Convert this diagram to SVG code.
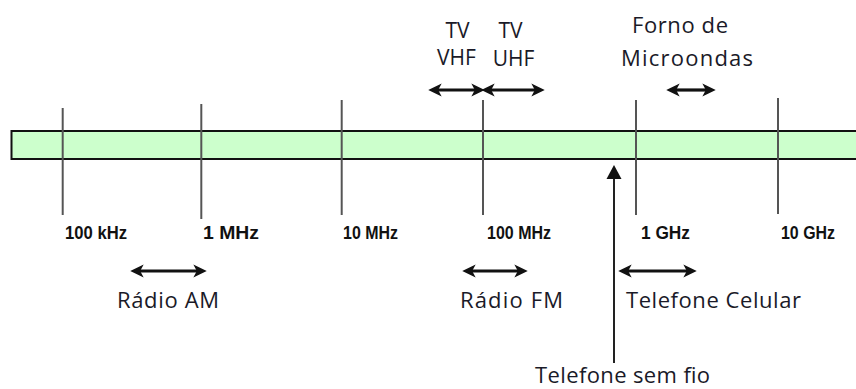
<svg xmlns="http://www.w3.org/2000/svg" width="856" height="389" viewBox="0 0 856 389">
  <style>
    .lbl { font-family: "Open Sans", "Noto Sans", sans-serif; font-size: 22px; fill: #1a1a28; }
    .tv { font-size: 21px; }
    .freq { font-family: "Liberation Sans", Arial, sans-serif; font-size: 18.5px; font-weight: bold; fill: #111; }
    .tick { stroke: #555; stroke-width: 2; fill: none; }
    .range { stroke: #111; stroke-width: 3.2; fill: none; marker-start: url(#head); marker-end: url(#head); }
  </style>
  <defs>
    <marker id="head" markerUnits="userSpaceOnUse" markerWidth="14" markerHeight="14" viewBox="0 0 12 12" refX="4" refY="6" orient="auto-start-reverse">
      <path d="M0,0.5 L11.5,6 L0,11.5 L3,6 Z" fill="#111"/>
    </marker>
  </defs>
  <rect width="856" height="389" fill="#ffffff"/>

  <g id="spectrum-bar">
    <rect x="11.5" y="131" width="850" height="28" fill="#ccffcc" stroke="#111" stroke-width="2"/>
  </g>

  <g id="ticks">
    <line class="tick" x1="62.7" y1="108" x2="62.7" y2="215"/>
    <line class="tick" x1="201.3" y1="104" x2="201.3" y2="219"/>
    <line class="tick" x1="341.7" y1="100" x2="341.7" y2="215"/>
    <line class="tick" x1="483" y1="100" x2="483" y2="215"/>
    <line class="tick" x1="636" y1="100" x2="636" y2="215"/>
    <line class="tick" x1="778" y1="98" x2="778" y2="214"/>
  </g>

  <g id="freq-labels">
    <text class="freq" x="65" y="239" textLength="62" lengthAdjust="spacingAndGlyphs">100 kHz</text>
    <text class="freq" x="203" y="239" textLength="56" lengthAdjust="spacingAndGlyphs">1  MHz</text>
    <text class="freq" x="343" y="239" textLength="55" lengthAdjust="spacingAndGlyphs">10 MHz</text>
    <text class="freq" x="487" y="239" textLength="64" lengthAdjust="spacingAndGlyphs">100 MHz</text>
    <text class="freq" x="641" y="239" textLength="49" lengthAdjust="spacingAndGlyphs">1 GHz</text>
    <text class="freq" x="781" y="239" textLength="54" lengthAdjust="spacingAndGlyphs">10 GHz</text>
  </g>

  <g id="connectors">
    <path class="range" d="M437,90 L476,90"/>
    <path class="range" d="M490,90 L536,90"/>
    <path class="range" d="M675,90 L707,90"/>
    <path class="range" d="M139,271 L198,271"/>
    <path class="range" d="M471,271 L519,271"/>
    <path class="range" d="M627,271 L688,271"/>
    <line x1="614" y1="176" x2="614" y2="363" stroke="#222" stroke-width="2"/>
    <path d="M614,165 L621.5,179 L606.5,179 Z" fill="#111"/>
  </g>

  <g id="tv-vhf">
    <text class="lbl tv" x="457.5" y="38" text-anchor="middle">TV</text>
    <text class="lbl tv" x="456.5" y="65" text-anchor="middle">VHF</text>
  </g>
  <g id="tv-uhf">
    <text class="lbl tv" x="510.5" y="38" text-anchor="middle">TV</text>
    <text class="lbl tv" x="513.5" y="66" text-anchor="middle">UHF</text>
  </g>
  <g id="forno-microondas">
    <text class="lbl" x="632" y="33" textLength="96" lengthAdjust="spacing">Forno de</text>
    <text class="lbl" x="621" y="66" textLength="132" lengthAdjust="spacing">Microondas</text>
  </g>
  <g id="radio-am">
    <text class="lbl" x="117" y="308" textLength="102" lengthAdjust="spacing">Rádio AM</text>
  </g>
  <g id="radio-fm">
    <text class="lbl" x="460" y="308" textLength="103" lengthAdjust="spacing">Rádio FM</text>
  </g>
  <g id="telefone-celular">
    <text class="lbl" x="626" y="308" textLength="175" lengthAdjust="spacing">Telefone Celular</text>
  </g>
  <g id="telefone-sem-fio">
    <text class="lbl" x="535" y="383" textLength="175" lengthAdjust="spacing">Telefone sem fio</text>
  </g>
</svg>
